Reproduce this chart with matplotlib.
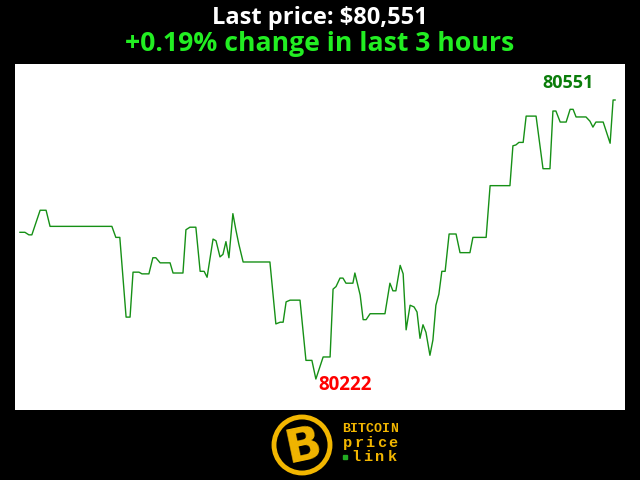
import matplotlib
matplotlib.use('Agg')
import matplotlib.pyplot as plt
from matplotlib.patches import Circle

# minutes since start of the 3 hour window, and BTC price
minutes = [0, 1.5, 2.7, 3.6, 6.1, 7.9, 9.1, 27.8, 29.0, 30.2, 32.1, 33.3, 34.2, 36.0,
           36.9, 39.0, 40.2, 41.1, 42.4, 45.4, 46.3, 49.3, 50.2, 51.4, 53.2, 54.5,
           55.7, 56.6, 58.4, 59.3, 60.5, 61.4, 62.3, 63.2, 64.4, 65.3, 66.2, 67.5,
           75.6, 77.4, 78.7, 79.6, 80.5, 81.7, 84.7, 86.5, 88.3, 89.5, 91.7, 93.8,
           94.7, 95.6, 96.8, 97.7, 98.6, 100.7, 101.3, 102.9, 103.8, 104.7, 105.9,
           110.4, 111.9, 112.8, 113.7, 115.0, 115.9, 116.8, 118.0, 119.2, 120.1,
           121.0, 121.9, 122.8, 124.0, 124.9, 125.8, 126.7, 127.6, 128.6, 129.8,
           131.9, 133.1, 136.1, 137.0, 141.0, 142.2, 148.2, 149.1, 150.0, 150.9,
           152.2, 153.1, 156.1, 158.2, 160.3, 161.2, 162.1, 163.4, 165.2, 166.4,
           167.3, 168.2, 171.2, 172.4, 173.3, 174.2, 176.4, 178.5, 179.4, 180.0]
prices = [80395, 80395, 80392, 80392, 80421, 80421, 80402, 80402, 80389, 80389,
          80295, 80295, 80348, 80348, 80346, 80346, 80365, 80365, 80359, 80359,
          80347, 80347, 80398, 80401, 80401, 80349, 80349, 80342, 80387, 80385,
          80366, 80369, 80384, 80365, 80417, 80398, 80381, 80360, 80360, 80287,
          80289, 80289, 80313, 80315, 80315, 80244, 80244, 80222, 80248, 80248,
          80328, 80331, 80341, 80341, 80335, 80335, 80347, 80321, 80292, 80292,
          80299, 80299, 80335, 80326, 80326, 80356, 80346, 80280, 80309, 80307,
          80301, 80270, 80286, 80277, 80250, 80268, 80309, 80322, 80349, 80349,
          80393, 80393, 80371, 80371, 80389, 80389, 80450, 80450, 80497, 80498,
          80501, 80501, 80532, 80532, 80470, 80470, 80538, 80538, 80525, 80525,
          80540, 80540, 80531, 80531, 80526, 80519, 80525, 80525, 80500, 80551,
          80551]

title1 = 'Last price: $80,551'
title2 = '+0.19% change in last 3 hours'

fig = plt.figure(figsize=(6.4, 4.8), dpi=100, facecolor='black')
ax = fig.add_axes([15 / 640, 70 / 480, 610 / 640, 346 / 480])
ax.set_facecolor('white')
ax.plot(minutes, prices, color='#169016', linewidth=1)

lo, hi = min(prices), max(prices)
span = hi - lo
ax.set_ylim(lo - 0.111 * span, hi + 0.129 * span)
ax.set_xlim(-1.5, 183)
ax.set_xticks([])
ax.set_yticks([])
for s in ax.spines.values():
    s.set_visible(False)

imax = prices.index(hi)
imin = prices.index(lo)
ax.annotate(str(hi), (minutes[imax], hi), xytext=(-45, 17), textcoords='offset pixels',
            ha='center', va='center', color='#0a7d0a', fontsize=13,
            fontweight='bold', family='Open Sans')
ax.annotate(str(lo), (minutes[imin], lo), xytext=(29, -6), textcoords='offset pixels',
            ha='center', va='center', color='#ff0000', fontsize=13.5,
            fontweight='bold', family='Open Sans')

fig.text(0.5, 1 - 18 / 480, title1, ha='center', va='center', color='white',
         fontsize=17, fontweight='bold', family='Open Sans')
fig.text(0.5, 1 - 44 / 480, title2, ha='center', va='center', color='#22ee22',
         fontsize=19.2, fontweight='bold', family='Open Sans')

# logo
gold = '#f2b600'
lax = fig.add_axes([0, 0, 1, 1], facecolor='none')
lax.set_xlim(0, 640)
lax.set_ylim(480, 0)
lax.axis('off')
lax.add_patch(Circle((302, 445), 28, fill=False, edgecolor=gold, linewidth=3.5))
lax.text(304, 447, 'B', ha='center', va='center', color=gold, fontsize=34,
         fontweight='bold', family='DejaVu Sans', rotation=12)
for word, y, x0, size in [('BITCOIN', 429, 342, 9.5), ('price', 443, 342, 11),
                          ('link', 457, 350, 11)]:
    n = len(word)
    step = (398 - x0) / n
    for i, ch in enumerate(word):
        lax.text(x0 + step * (i + 0.5), y, ch, ha='center', va='center', color=gold,
                 fontsize=size, fontweight='bold', family='Liberation Mono')
lax.plot([345], [457], marker='s', markersize=3, color='#22aa22')

fig.savefig('out.png', dpi=100, facecolor='black')
